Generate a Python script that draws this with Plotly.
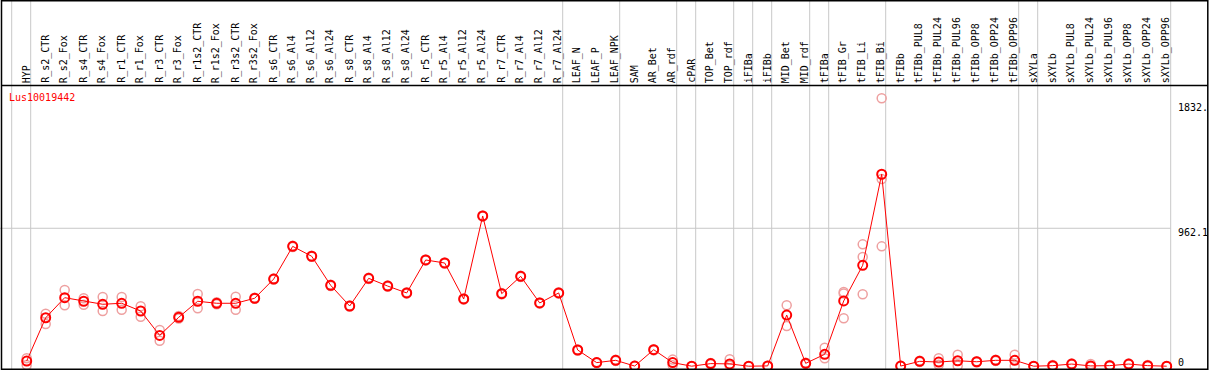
import plotly.graph_objects as go

# ---------------- data ----------------
gene = "Lus10019442"

categories = [
    "HYP", "R_s2_CTR", "R_s2_Fox", "R_s4_CTR", "R_s4_Fox", "R_r1_CTR", "R_r1_Fox",
    "R_r3_CTR", "R_r3_Fox", "R_r1s2_CTR", "R_r1s2_Fox", "R_r3s2_CTR", "R_r3s2_Fox",
    "R_s6_CTR", "R_s6_Al4", "R_s6_Al12", "R_s6_Al24", "R_s8_CTR", "R_s8_Al4",
    "R_s8_Al12", "R_s8_Al24", "R_r5_CTR", "R_r5_Al4", "R_r5_Al12", "R_r5_Al24",
    "R_r7_CTR", "R_r7_Al4", "R_r7_Al12", "R_r7_Al24", "LEAF_N", "LEAF_P", "LEAF_NPK",
    "SAM", "AR_Bet", "AR_rdf", "cPAR", "TOP_Bet", "TOP_rdf", "iFIBa", "iFIBb",
    "MID_Bet", "MID_rdf", "tFIBa", "tFIB_Gr", "tFIB_Li", "tFIB_Bi", "tFIBb",
    "tFIBb_PUL8", "tFIBb_PUL24", "tFIBb_PUL96", "tFIBb_OPP8", "tFIBb_OPP24",
    "tFIBb_OPP96", "sXYLa", "sXYLb", "sXYLb_PUL8", "sXYLb_PUL24", "sXYLb_PUL96",
    "sXYLb_OPP8", "sXYLb_OPP24", "sXYLb_OPP96",
]

means = [
    36, 338, 478, 453, 432, 439, 385, 215, 341, 453, 439, 439, 474,
    608, 836, 767, 564, 420, 613, 559, 511, 741, 720, 469, 1048,
    506, 627, 441, 511, 113, 25, 41, 1, 115, 25, 0, 18, 16, 0, 2,
    357, 20, 83, 455, 704, 1339, 1,
    34, 29, 38, 31, 41, 41, 0, 4, 15, 2, 4, 15, 4, 0,
]

replicates = [
    [55, 8], [366, 294], [532, 425], [474, 429], [483, 385], [483, 394], [418, 345],
    [252, 178], [350, 332], [504, 404], [446, 432], [485, 394], [478, 470],
    [612, 604], [840, 832], [770, 764], [568, 560], [424, 416], [617, 609],
    [563, 555], [515, 507], [745, 737], [724, 716], [473, 465], [1052, 1044],
    [510, 502], [631, 623], [445, 437], [515, 507], [117, 109], [28, 22], [45, 37],
    [4, 0], [119, 111], [46, 6], [0, 0], [22, 14], [48, 5], [0, 0], [4, 0],
    [425, 280], [24, 16], [129, 55], [518, 508, 334], [850, 762, 502],
    [1869, 1306, 836], [4, 0],
    [38, 30], [55, 10], [80, 4], [35, 27], [45, 37], [80, 1], [0, 0], [8, 0],
    [19, 11], [15, 0], [8, 0], [19, 11], [8, 0], [0, 0],
]

# last category index of each group (group separators); -1 = left edge
group_ends = [-1, 0, 28, 31, 34, 35, 37, 38, 39, 41, 42, 45, 52, 53, 60]

y_ticks = [1832, 962.1, 0]
y_tick_labels = ["1832.", "962.1", "0"]
grid_values = [962.1]

# ---------------- geometry / style ----------------
W, H = 1209, 370
CAT_PX = 19.0          # pixels per category
X0_PX = 26.7           # pixel of first category
ZERO_PX = 366.2        # pixel row of value 0
PX_PER_UNIT = 0.14335  # pixels per value unit
HEADER_PX = 85.5       # header separator row
SEP_OFFSET = 4.0 / CAT_PX

x_range = [-X0_PX / CAT_PX, (W - X0_PX) / CAT_PX]
y_range = [-(H - ZERO_PX) / PX_PER_UNIT, ZERO_PX / PX_PER_UNIT]


def py(p):
    return 1 - p / H


def pxx(p):
    return p / W


FONT = "DejaVu Sans Mono"
RED = "#ff0000"
PINK = "#eea0a0"
GRID = "#c8c8c8"

x_idx = list(range(len(categories)))

rep_x, rep_y = [], []
for i, reps in enumerate(replicates):
    for v in reps:
        rep_x.append(i)
        rep_y.append(v)

fig = go.Figure()

fig.add_trace(go.Scatter(
    x=rep_x, y=rep_y, mode="markers",
    marker=dict(symbol="circle-open", size=9, color=PINK, line=dict(width=1.5, color=PINK)),
    cliponaxis=False, hoverinfo="skip",
))
fig.add_trace(go.Scatter(
    x=x_idx, y=means, mode="lines+markers",
    line=dict(color=RED, width=1),
    marker=dict(symbol="circle-open", size=9, color=RED, line=dict(width=2, color=RED)),
    cliponaxis=False,
))

shapes = []
# group separator lines (full height)
for g in group_ends:
    shapes.append(dict(type="line", xref="x", yref="paper",
                       x0=g + SEP_OFFSET, x1=g + SEP_OFFSET, y0=0, y1=1,
                       line=dict(color=GRID, width=1), layer="below"))
# horizontal grid
for gv in grid_values:
    shapes.append(dict(type="line", xref="x", yref="y",
                       x0=x_range[0], x1=group_ends[-1] + SEP_OFFSET, y0=gv, y1=gv,
                       line=dict(color=GRID, width=1), layer="below"))
# header separator
shapes.append(dict(type="line", xref="paper", yref="paper",
                   x0=pxx(1), x1=pxx(1208), y0=py(HEADER_PX), y1=py(HEADER_PX),
                   line=dict(color="black", width=1.5)))
# frame
shapes.append(dict(type="rect", xref="paper", yref="paper",
                   x0=pxx(1.5), x1=pxx(1207.8), y0=py(369.2), y1=py(0.8),
                   line=dict(color="black", width=1.5)))

annotations = []
for i, c in enumerate(categories):
    annotations.append(dict(
        x=i - 0.02, xref="x", y=py(HEADER_PX - 1.5), yref="paper",
        text=c, textangle=-90, showarrow=False,
        xanchor="center", yanchor="bottom",
        font=dict(family=FONT, size=10, color="black"),
        borderpad=0,
    ))

annotations.append(dict(
    x=pxx(8), xref="paper", y=py(97.5), yref="paper", text=gene,
    showarrow=False, xanchor="left", yanchor="middle",
    font=dict(family=FONT, size=10, color=RED), borderpad=0,
))

for v, lab in zip(y_ticks, y_tick_labels):
    shift = -4 if v != 0 else 4
    annotations.append(dict(
        x=pxx(1176.5), xref="paper", y=v, yref="y", yshift=shift, text=lab,
        showarrow=False, xanchor="left", yanchor="middle",
        font=dict(family=FONT, size=10, color="black"), borderpad=0,
    ))

fig.update_layout(
    width=W, height=H, autosize=False,
    margin=dict(l=0, r=0, t=0, b=0, pad=0),
    paper_bgcolor="white", plot_bgcolor="white",
    showlegend=False,
    xaxis=dict(range=x_range, visible=False, fixedrange=True),
    yaxis=dict(range=y_range, visible=False, fixedrange=True),
    shapes=shapes, annotations=annotations,
)

fig.write_html(
    "out.html",
    config={"displayModeBar": False},
    post_script="document.body.style.margin='0';document.body.style.padding='0';"
                "document.body.style.overflow='hidden';",
)
